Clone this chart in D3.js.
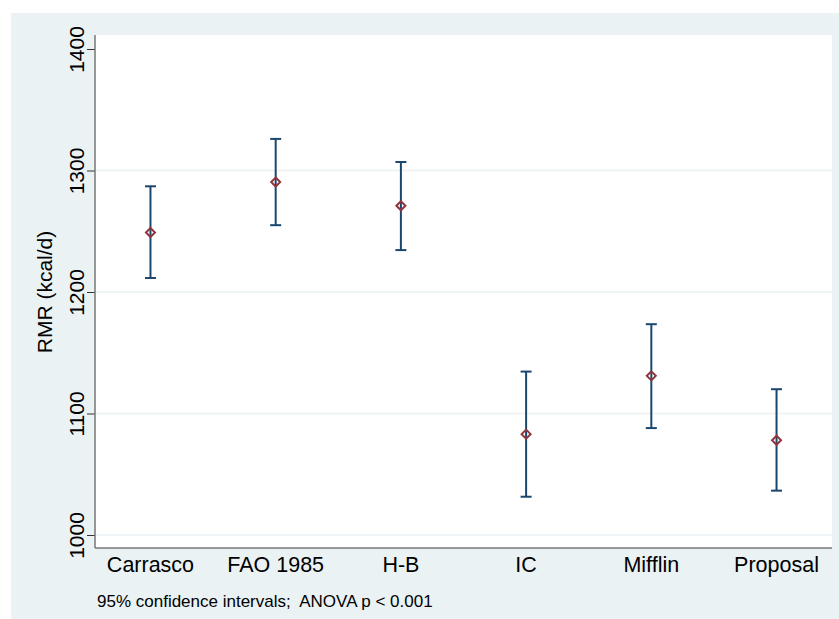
<!DOCTYPE html>
<html>
<head>
<meta charset="utf-8">
<script src="https://cdn.jsdelivr.net/npm/d3@7"></script>
<style>
  body { margin: 0; background: #fff; }
  text { font-family: "Liberation Sans", Arial, sans-serif; fill: #000; white-space: pre; }
</style>
</head>
<body>
<svg width="839" height="619"></svg>
<script>
var categories = ['Carrasco', 'FAO 1985', 'H-B', 'IC', 'Mifflin', 'Proposal'];
var means = [1249, 1290.5, 1271, 1083, 1131, 1078];
var lower = [1211.5, 1255, 1234.5, 1031.5, 1088, 1036.5];
var upper = [1287, 1326, 1307, 1134.5, 1173.5, 1120];
var yTicks = [1000, 1100, 1200, 1300, 1400];
var yTitle = 'RMR (kcal/d)';
var note = '95% confidence intervals;  ANOVA p < 0.001';

var svg = d3.select('svg'),
  width = +svg.attr('width'),
  height = +svg.attr('height');

var plot = { left: 95, right: 832, top: 35, bottom: 548 };

// graph region
svg.append('rect')
  .attr('x', 11).attr('y', 13)
  .attr('width', width - 11).attr('height', height - 13)
  .attr('fill', '#eaf2f3');

svg.append('rect')
  .attr('x', plot.left).attr('y', plot.top)
  .attr('width', plot.right - plot.left).attr('height', plot.bottom - plot.top)
  .attr('fill', '#fff');

var x = d3.scalePoint()
  .domain(categories)
  .range([plot.left, plot.right])
  .padding(0.443);

var y = d3.scaleLinear()
  .domain([1000, 1400])
  .range([535, 49]);

// gridlines
svg.append('g')
  .selectAll('line')
  .data(yTicks.filter(function(d) { return d < 1400; }))
  .enter()
  .append('line')
  .attr('x1', plot.left).attr('x2', plot.right)
  .attr('y1', function(d) { return y(d); })
  .attr('y2', function(d) { return y(d); })
  .attr('stroke', '#eaf2f3')
  .attr('stroke-width', 1.5);

// y axis
var yAxis = svg.append('g')
  .attr('transform', 'translate(' + plot.left + ',0)')
  .call(d3.axisLeft(y).tickValues(yTicks).tickSize(8).tickPadding(0).tickFormat(d3.format('d')));
yAxis.select('.domain').remove();
yAxis.selectAll('.tick line').attr('stroke', '#333').attr('stroke-width', 1);
yAxis.selectAll('.tick text')
  .attr('font-size', 21)
  .attr('text-anchor', 'middle')
  .attr('transform', 'translate(-18,0) rotate(-90)')
  .attr('x', 0).attr('dy', '0.35em');

svg.append('line')
  .attr('x1', plot.left).attr('x2', plot.left)
  .attr('y1', plot.top).attr('y2', plot.bottom)
  .attr('stroke', '#777').attr('stroke-width', 1.5);

// x axis
svg.append('line')
  .attr('x1', plot.left).attr('x2', plot.right)
  .attr('y1', plot.bottom).attr('y2', plot.bottom)
  .attr('stroke', '#777').attr('stroke-width', 1.5);

svg.append('g')
  .selectAll('text')
  .data(categories)
  .enter()
  .append('text')
  .attr('x', function(d) { return x(d); })
  .attr('y', 572)
  .attr('text-anchor', 'middle')
  .attr('font-size', 21.5)
  .text(function(d) { return d; });

// CI bars
var rows = categories.map(function(c, i) {
  return { cat: c, mean: means[i], lo: lower[i], hi: upper[i] };
});

var bars = svg.append('g')
  .attr('stroke', '#1a476f')
  .attr('stroke-width', 2)
  .selectAll('g')
  .data(rows)
  .enter()
  .append('g');

bars.append('line')
  .attr('x1', function(d) { return x(d.cat); })
  .attr('x2', function(d) { return x(d.cat); })
  .attr('y1', function(d) { return y(d.lo); })
  .attr('y2', function(d) { return y(d.hi); });

bars.append('line')
  .attr('x1', function(d) { return x(d.cat) - 5.5; })
  .attr('x2', function(d) { return x(d.cat) + 5.5; })
  .attr('y1', function(d) { return y(d.hi); })
  .attr('y2', function(d) { return y(d.hi); });

bars.append('line')
  .attr('x1', function(d) { return x(d.cat) - 5.5; })
  .attr('x2', function(d) { return x(d.cat) + 5.5; })
  .attr('y1', function(d) { return y(d.lo); })
  .attr('y2', function(d) { return y(d.lo); });

// hollow diamond markers
svg.append('g')
  .selectAll('path')
  .data(rows)
  .enter()
  .append('path')
  .attr('d', function(d) {
    var cx = x(d.cat), cy = y(d.mean), r = 4.5;
    return 'M' + cx + ',' + (cy - r) + 'L' + (cx + r) + ',' + cy + 'L' + cx + ',' + (cy + r) + 'L' + (cx - r) + ',' + cy + 'Z';
  })
  .attr('fill', 'none')
  .attr('stroke', '#90353b')
  .attr('stroke-width', 2);

// y title
svg.append('text')
  .attr('transform', 'translate(52,292) rotate(-90)')
  .attr('text-anchor', 'middle')
  .attr('font-size', 21)
  .text(yTitle);

// note
svg.append('text')
  .attr('x', 97).attr('y', 607)
  .attr('font-size', 17)
  .text(note);
</script>
</body>
</html>
